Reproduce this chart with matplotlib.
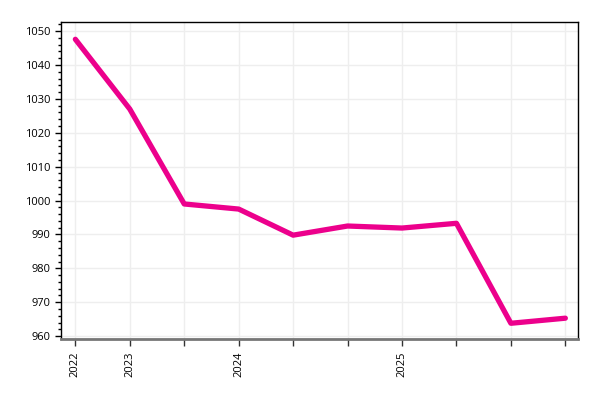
import matplotlib.pyplot as plt
from matplotlib.ticker import MultipleLocator

plt.rcParams['font.family'] = ['Open Sans', 'DejaVu Sans']

positions = [0, 1, 2, 3, 4, 5, 6, 7, 8, 9]
tick_labels = ['2022', '2023', '', '2024', '', '', '2025', '', '', '']
values = [1047.6, 1027.0, 999.0, 997.5, 989.8, 992.5, 991.9, 993.3, 963.8, 965.3]

fig = plt.figure(figsize=(6, 4), dpi=100)
ax = fig.add_axes([0.102, 0.152, 0.862, 0.793])

ax.plot(positions, values, color='#EC008C', linewidth=3.8, solid_capstyle='round', zorder=3)

ax.set_xlim(-0.26, 9.24)
ax.set_ylim(959.1, 1052.7)
ax.set_xticks(positions)
ax.set_xticklabels(tick_labels, rotation=90, fontsize=8)
ax.yaxis.set_major_locator(MultipleLocator(10))
ax.yaxis.set_minor_locator(MultipleLocator(2))
ax.tick_params(axis='y', labelsize=8, length=4, width=1)
ax.tick_params(axis='y', which='minor', length=2, width=1)
ax.tick_params(axis='x', length=5, width=1, color='#333333')

ax.grid(True, color='#eeeeee', linewidth=1, zorder=0)
ax.set_axisbelow(True)
for s in ['top', 'right', 'left']:
    ax.spines[s].set_color('black')
    ax.spines[s].set_linewidth(1)
ax.spines['bottom'].set_color('#777777')
ax.spines['bottom'].set_linewidth(2)

fig.savefig('out.png', dpi=100)
